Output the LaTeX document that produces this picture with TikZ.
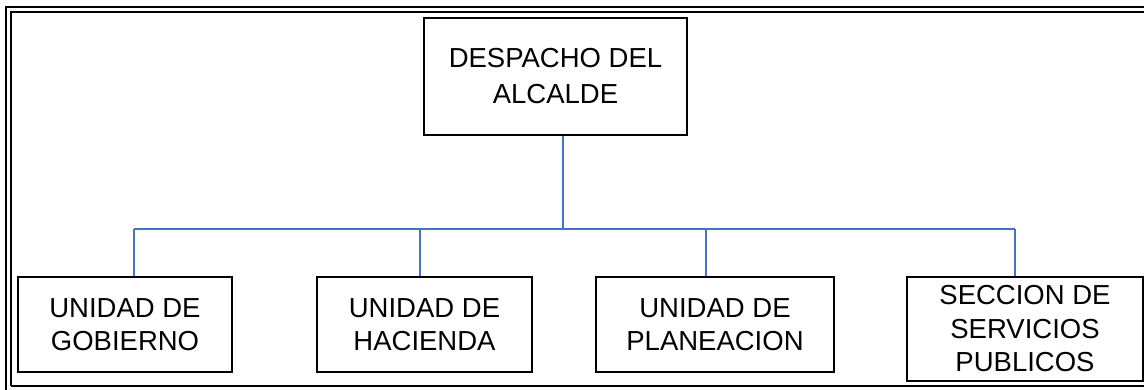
\documentclass[tikz,border=0pt]{standalone}
\usepackage{fontspec}
\setmainfont{Liberation Sans}
\definecolor{connblue}{HTML}{4472C4}
\begin{document}
\begin{tikzpicture}[x=1pt,y=-1pt,
  unitbox/.style={draw=black,line width=1.4pt,inner sep=0pt,align=center,
    font=\fontsize{27.5}{33.5}\selectfont},
  conn/.style={draw=connblue,line width=1.5pt},
  frameouter/.style={draw=black,line width=2.6pt},
  frameinner/.style={draw=black,line width=1.5pt}]
\useasboundingbox (0,0) rectangle (1144,389);
% page frame
\draw[frameouter] (6,395) -- (6,7) -- (1150,7);
\draw[frameinner] (11,386) -- (11,12) -- (1150,12);
\draw[frameinner,line width=2.2pt] (11,386) -- (1150,386);
% boxes
\node[unitbox,minimum width=263pt,minimum height=117pt,
  font=\fontsize{27.5}{36}\selectfont] (top) at (555.5,76.5) {DESPACHO DEL\\ALCALDE};
\node[unitbox,minimum width=214pt,minimum height=95pt] (b1) at (125,324.5) {UNIDAD DE\\GOBIERNO};
\node[unitbox,minimum width=215pt,minimum height=95pt] (b2) at (424.5,324.5) {UNIDAD DE\\HACIENDA};
\node[unitbox,minimum width=238pt,minimum height=95pt] (b3) at (715,324.5) {UNIDAD DE\\PLANEACION};
\node[unitbox,minimum width=236pt,minimum height=104pt] (b4) at (1025,329) {SECCION DE\\SERVICIOS\\PUBLICOS};
% junction coordinates
\coordinate (jt) at (563,229);
\coordinate (j1) at (134,229);
\coordinate (j2) at (420,229);
\coordinate (j3) at (706,229);
\coordinate (j4) at (1015,229);
% connectors
\draw[conn] (top.south -| jt) -- (jt);
\draw[conn] (j1) -- (j4);
\draw[conn] (j1) -- (j1 |- b1.north);
\draw[conn] (j2) -- (j2 |- b2.north);
\draw[conn] (j3) -- (j3 |- b3.north);
\draw[conn] (j4) -- (j4 |- b4.north);
\end{tikzpicture}
\end{document}
